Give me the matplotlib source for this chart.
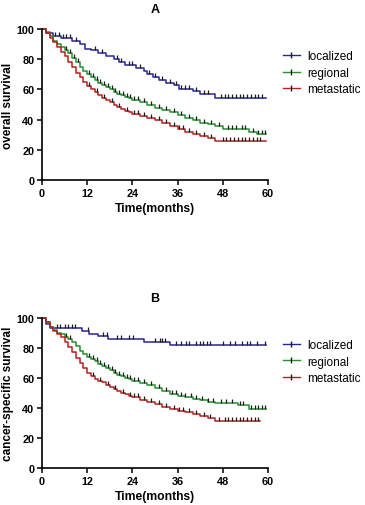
import matplotlib

matplotlib.use("Agg")
import matplotlib.pyplot as plt
from matplotlib.lines import Line2D

plt.rcParams["font.family"] = ["Liberation Sans", "DejaVu Sans"]

groups = ["localized", "regional", "metastatic"]
colors = ["#26269a", "#23912d", "#b81f1f"]

# Panel A: overall survival (step times in months, survival %)
a_loc_t = [0, 1, 3, 5, 8, 10, 11.5, 13, 15, 17, 19, 20.5, 22, 25, 27, 28, 29.5, 31, 33, 35, 36.5, 40, 42, 46, 59.5]
a_loc_s = [100, 97, 95, 94, 92, 90, 87, 86, 84, 82, 80, 78, 76, 74, 72, 70, 68, 66, 64, 63, 60, 59, 57, 54.5, 54.5]
a_loc_c = [3.5, 4.5, 5.5, 6.5, 7.5, 9, 14, 16, 20, 21, 23, 24, 26, 28.5, 30, 32, 34, 35.5, 37, 38, 39, 41,
           43, 44, 47.5, 48.5, 49.5, 50.5, 51.5, 52.5, 53.5, 54.5, 55.5, 56.5, 57.5, 58.5]

a_reg_t = [0, 1, 2, 3, 4, 5, 6, 7, 8, 9, 10, 11, 12, 13, 14, 15, 16, 17, 18, 19, 20, 21, 22, 23, 24, 26, 28,
           30, 32, 34, 36, 38, 40, 42, 44, 46, 48, 55, 57, 59.5]
a_reg_s = [100, 98, 95, 92, 90, 88, 86, 84, 81, 78, 75, 72, 70, 68, 66, 64.5, 63, 61.5, 60, 58.5, 57, 56, 55,
           54, 53, 51.5, 50, 48, 46.5, 45, 43, 41, 40, 38, 37, 35.5, 34, 32, 30.5, 30.5]
a_reg_c = [6.5, 7.5, 8.5, 9.5, 12.5, 13.5, 14.5, 15.5, 16.5, 17.5, 18.5, 19.5, 20.5, 21.5, 22.5, 23.5, 24.5,
           25.5, 27, 29, 31, 33, 35, 37, 39, 41, 43, 45, 47, 49.5, 50.5, 51.5, 53, 54, 56, 57.5, 58.5, 59.3]

a_met_t = [0, 1, 2, 3, 4, 5, 6, 7, 8, 9, 10, 11, 12, 13, 14, 15, 16, 17, 18, 19, 20, 21, 22, 23, 24, 26, 28,
           30, 32, 34, 36, 38, 40, 42, 44, 46, 59.5]
a_met_s = [100, 97, 94, 91, 88, 85, 82, 78, 75, 71, 68, 65, 62, 60, 58, 56, 54.5, 53, 51.5, 50, 48.5, 47, 46,
           45, 44, 42.5, 41, 39.5, 37.5, 35.5, 34, 32, 30.5, 29, 28, 26, 26]
a_met_c = [12.5, 14.5, 16.5, 18.5, 20.5, 22.5, 24.5, 25.5, 27, 29, 31, 33, 35, 36.5, 37.5, 39, 41, 43, 45,
           48, 49, 50, 51, 52, 53, 54, 55, 56, 57, 58]

# Panel B: cancer-specific survival
b_loc_t = [0, 1, 2, 10.5, 12.5, 15, 17.5, 27, 34, 59.5]
b_loc_s = [100, 96, 93, 91.5, 89, 88, 86, 84, 82, 82]
b_loc_c = [3.9, 4.8, 6.1, 7.0, 7.9, 8.8, 12.3, 16.3, 17.2, 19.8, 21.1, 23, 24.3, 29.9, 31.3, 32, 32.6,
           35.7, 37, 38.2, 39.1, 41, 41.9, 42.8, 43.7, 44.6, 48.2, 49.9, 51.3, 53, 54.4, 55.2, 57, 59.2]

b_reg_t = [0, 1, 2, 3, 4, 5, 6, 7, 8, 9, 10, 11, 12, 13, 14, 15, 16, 17, 18, 19, 20, 21, 22, 23, 24, 26, 28,
           30, 32, 34, 36, 38, 40, 42, 44, 46, 52, 55, 59.5]
b_reg_s = [100, 97, 94, 92, 90, 89, 87.5, 86, 84, 81, 78, 76, 74, 72.5, 71, 69.5, 68, 66.5, 65, 63.5, 62, 61,
           60, 59, 58, 56.5, 55, 53, 51, 49.5, 48, 47, 46, 45, 44, 43, 42, 39.5, 39.5]
b_reg_c = [6.5, 7.5, 12.5, 13.5, 14.5, 15.5, 16.5, 17.5, 18.5, 19.5, 20.5, 21.5, 22.5, 23.5, 24.5, 25.5,
           27, 29, 31, 33, 34.5, 35.5, 37, 38, 39.5, 41, 42.5, 44, 45.5, 47.5, 49, 50.5, 52.5, 53.5, 55.5,
           56.5, 57.5, 58.5, 59.3]

b_met_t = [0, 1, 2, 3, 4, 5, 6, 7, 8, 9, 10, 11, 12, 13, 14, 15, 16, 17, 18, 19, 20, 21, 22, 23, 24, 26, 28,
           30, 32, 34, 36, 38, 40, 42, 44, 46, 58]
b_met_s = [100, 97, 94, 91, 89, 87, 84, 80.5, 77, 73.5, 70, 66.5, 63.5, 61, 59.5, 58, 57, 55.5, 54, 52.5, 51,
           50, 49, 48, 47, 45.5, 44, 42.5, 40.5, 39, 38, 37, 36, 34.5, 33.5, 31, 31]
b_met_c = [13.5, 15.5, 17.5, 19.5, 21.5, 23.5, 24.5, 25.5, 27, 29, 31, 33, 35, 36.5, 37.5, 39, 41, 43,
           44.5, 47, 48.5, 49.5, 50.5, 51.5, 52.5, 53.5, 54.5, 55.5, 56.5, 57.5]

x_ticks = [0, 12, 24, 36, 48, 60]
y_ticks = [0, 20, 40, 60, 80, 100]

panels = [
    ("A", "overall survival",
     [(a_loc_t, a_loc_s, a_loc_c), (a_reg_t, a_reg_s, a_reg_c), (a_met_t, a_met_s, a_met_c)]),
    ("B", "cancer-specific survival",
     [(b_loc_t, b_loc_s, b_loc_c), (b_reg_t, b_reg_s, b_reg_c), (b_met_t, b_met_s, b_met_c)]),
]

TICK = [(0, 0), (0, 1)]  # censor mark pointing up from the curve


def surv_at(times, surv, t):
    val = surv[0]
    for ti, si in zip(times, surv):
        if ti <= t:
            val = si
    return val


fig = plt.figure(figsize=(3.65, 5.06), dpi=100)
boxes = [[0.115, 0.642, 0.619, 0.299], [0.115, 0.073, 0.619, 0.297]]

for box, (title, ylabel, series) in zip(boxes, panels):
    ax = fig.add_axes(box)
    for (t, s, cens), col in zip(series, colors):
        ax.step(t, s, where="post", color=col, lw=1.1, clip_on=False)
        cy = [surv_at(t, s, c) for c in cens]
        ax.plot(cens, cy, ls="none", marker=TICK, ms=6, mew=0.9, color="#1a1a1a", clip_on=False)
    ax.set_xlim(0, 60)
    ax.set_ylim(0, 100)
    ax.set_xticks(x_ticks)
    ax.set_yticks(y_ticks)
    for side in ["top", "right"]:
        ax.spines[side].set_visible(False)
    for side in ["left", "bottom"]:
        ax.spines[side].set_linewidth(1.2)
    ax.tick_params(direction="out", length=3.5, width=1.1, pad=2, labelsize=7.8)
    for lab in ax.get_xticklabels() + ax.get_yticklabels():
        lab.set_fontweight("bold")
    ax.set_title(title, fontsize=9, fontweight="bold", pad=12)
    ax.set_xlabel("Time(months)", fontsize=8.7, fontweight="bold", labelpad=3)
    ax.set_ylabel(ylabel, fontsize=8.5, fontweight="bold")
    ax.yaxis.set_label_coords(-0.125, 0.5)

    handles = [Line2D([0], [0], color=c, lw=1.0, marker="|", ms=4, mec="#1a1a1a") for c in colors]
    ax.legend(handles, groups, loc="upper left", bbox_to_anchor=(1.065, 0.86), frameon=False,
              fontsize=8.5, handlelength=1.45, handletextpad=0.6, labelspacing=0.4,
              borderaxespad=0, borderpad=0)

fig.savefig("out.png", dpi=100)
